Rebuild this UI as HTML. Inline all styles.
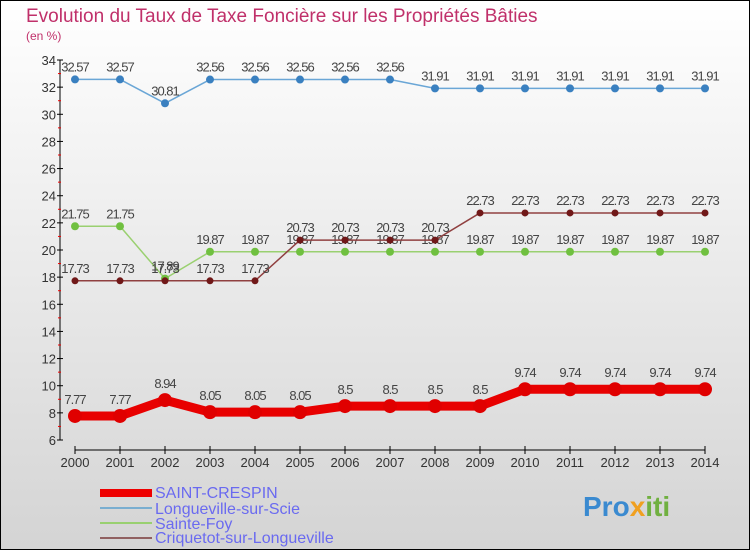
<!DOCTYPE html>
<html><head><meta charset="utf-8"><style>
body{margin:0}
#c{width:750px;height:550px;position:relative;overflow:hidden;font-family:"Liberation Sans",sans-serif}
</style></head><body>
<div id="c">
<svg id="s" width="750" height="550" xmlns="http://www.w3.org/2000/svg">
<defs><linearGradient id="bg" x1="0" y1="0" x2="0" y2="1"><stop offset="0" stop-color="#ffffff"/><stop offset="1" stop-color="#d4d4d4"/></linearGradient></defs>
<rect x="0.5" y="0.5" width="749" height="549" fill="url(#bg)" stroke="#000"/>
<text x="26" y="22" font-size="19" fill="#c0306a">Evolution du Taux de Taxe Foncière sur les Propriétés Bâties</text>
<text x="26" y="40" font-size="12" fill="#c0306a">(en %)</text>
<g id="axes"></g><g id="series"></g>
<g font-size="16" fill="#6a6af0">
<line x1="100" y1="493" x2="152" y2="493" stroke="#e00" stroke-width="8"/><text x="155" y="498">SAINT-CRESPIN</text>
<line x1="100" y1="508" x2="152" y2="508" stroke="#7aaed0" stroke-width="2"/><text x="155" y="514">Longueville-sur-Scie</text>
<line x1="100" y1="523" x2="152" y2="523" stroke="#99d070" stroke-width="2"/><text x="155" y="529">Sainte-Foy</text>
<line x1="100" y1="538" x2="152" y2="538" stroke="#906060" stroke-width="2"/><text x="155" y="543">Criquetot-sur-Longueville</text>
</g>
<text x="583" y="516" font-size="28" font-weight="bold" fill="#3a8ad0">Pro<tspan fill="#f0a020">x</tspan><tspan fill="#70b040">iti</tspan></text>
</svg>
</div>
<script>
const years=[2000,2001,2002,2003,2004,2005,2006,2007,2008,2009,2010,2011,2012,2013,2014];
const yTicks=[6,8,10,12,14,16,18,20,22,24,26,28,30,32,34];
const saintCrespin=[7.77,7.77,8.94,8.05,8.05,8.05,8.5,8.5,8.5,8.5,9.74,9.74,9.74,9.74,9.74];
const longueville=[32.57,32.57,30.81,32.56,32.56,32.56,32.56,32.56,31.91,31.91,31.91,31.91,31.91,31.91,31.91];
const sainteFoy=[21.75,21.75,17.89,19.87,19.87,19.87,19.87,19.87,19.87,19.87,19.87,19.87,19.87,19.87,19.87];
const criquetot=[17.73,17.73,17.73,17.73,17.73,20.73,20.73,20.73,20.73,22.73,22.73,22.73,22.73,22.73,22.73];
const NS='http://www.w3.org/2000/svg';
const X=i=>75+i*45, Y=v=>60+(34-v)*380/28;
function mk(t,a,p,txt){const e=document.createElementNS(NS,t);for(const k in a)e.setAttribute(k,a[k]);if(txt!==undefined)e.textContent=txt;p.appendChild(e);return e;}
const ax=document.getElementById('axes');
const ya=mk('line',{x1:60,y1:60,x2:60,y2:440,stroke:'#000'},ax);

const xa=mk('line',{x1:75,y1:450,x2:705,y2:450,stroke:'#000'},ax);

yTicks.forEach(v=>{const y=Y(v);mk('line',{x1:57,y1:y,x2:63,y2:y,stroke:'#000'},ax);
 if(v<34)mk('line',{x1:58,y1:Y(v+1),x2:61,y2:Y(v+1),stroke:'#e00'},ax);
 const t=mk('text',{x:56,y:y+5,'font-size':13,'text-anchor':'end',fill:'#333'},ax,v);
 });
years.forEach((yr,i)=>{mk('line',{x1:X(i),y1:446,x2:X(i),y2:454,stroke:'#000'},ax);
 const t=mk('text',{x:X(i),y:467,'font-size':13,'text-anchor':'middle',fill:'#333'},ax,yr);
 });
const sg=document.getElementById('series');
function draw(data,name,color,w,r,dot){const g=mk('g',{},sg);
 
 mk('polyline',{points:data.map((v,i)=>X(i)+','+Y(v)).join(' '),fill:'none',stroke:color,'stroke-width':w,'stroke-linejoin':'round'},g);
 data.forEach((v,i)=>{const c=mk('circle',{cx:X(i),cy:Y(v),r:r,fill:dot},g);
  
  mk('text',{x:X(i),y:Y(v)-8-(r>4?4:0),'font-size':13,'text-anchor':'middle',fill:'#444','letter-spacing':'-1'},g,String(v));});}
draw(longueville,'longueville','#6aa6d6',1.5,4,'#3a80c0');
draw(sainteFoy,'sainte-foy','#9ad070',1.5,4,'#70c040');
draw(criquetot,'criquetot','#904040',1.5,3.5,'#701818');
draw(saintCrespin,'saint-crespin','#e80000',9,7,'#e00000');
</script>
</body></html>
